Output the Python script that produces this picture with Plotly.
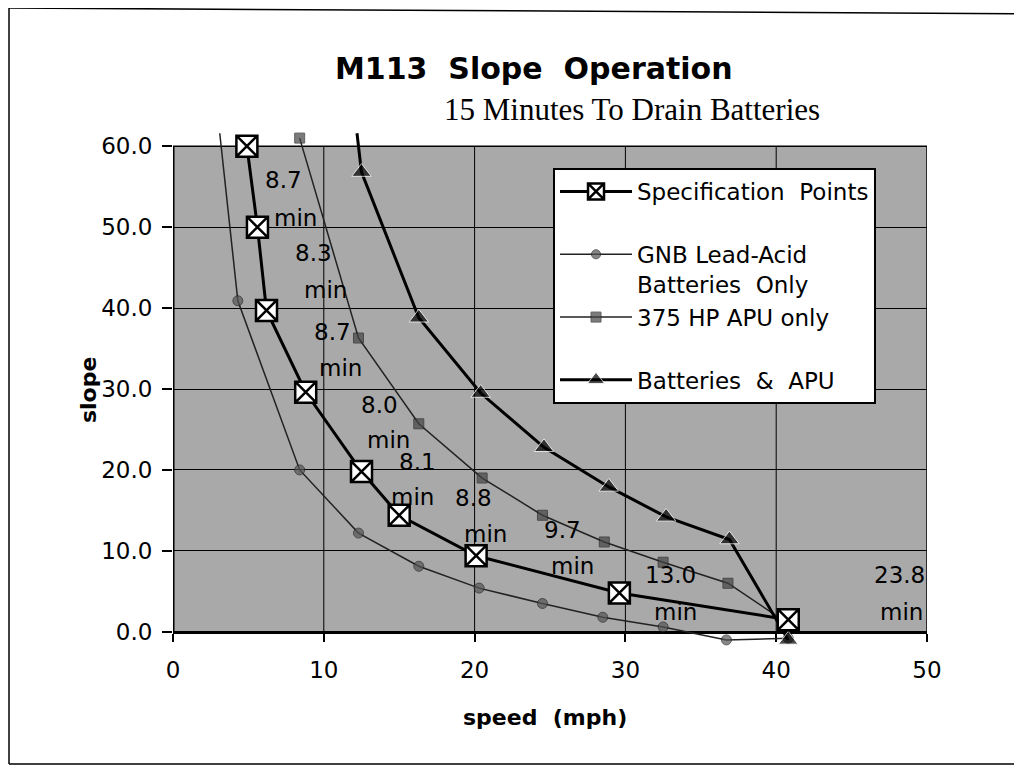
import plotly.graph_objects as go

# ---------------- data ----------------
spec_speed = [4.9, 5.6, 6.2, 8.8, 12.5, 15.0, 20.1, 29.6, 40.8]
spec_slope = [60.0, 50.0, 39.7, 29.6, 19.8, 14.4, 9.4, 4.8, 1.5]

gnb_speed = [3.1, 4.3, 8.4, 12.3, 16.3, 20.3, 24.5, 28.5, 32.5, 36.7, 40.8]
gnb_slope = [61.6, 40.9, 20.0, 12.2, 8.1, 5.4, 3.5, 1.8, 0.6, -1.0, -0.8]

apu_speed = [8.4, 12.3, 16.3, 20.5, 24.5, 28.6, 32.5, 36.8, 40.8]
apu_slope = [61.0, 36.3, 25.7, 19.0, 14.4, 11.1, 8.6, 6.0, 1.0]

both_speed = [12.2, 12.5, 16.3, 20.4, 24.6, 28.9, 32.7, 36.9, 40.8]
both_slope = [61.6, 56.8, 38.8, 29.5, 22.8, 17.9, 14.2, 11.4, -1.0]

drain_minutes = ["8.7", "8.3", "8.7", "8.0", "8.1", "8.8", "9.7", "13.0", "23.8"]

x_ticks = [0, 10, 20, 30, 40, 50]
y_ticks = [0, 10, 20, 30, 40, 50, 60]

# label placement (data coordinates) for the drain-time notes
num_pos = [(7.3, 55.8), (9.3, 46.8), (10.6, 37.0), (13.7, 28.0), (16.2, 21.0),
           (19.9, 16.5), (25.8, 12.6), (33.0, 7.0), (50.0, 7.0)]
min_pos = [(8.1, 51.1), (10.1, 42.2), (11.1, 32.6), (14.3, 23.7), (15.9, 16.7),
           (20.7, 12.1), (26.5, 8.1), (33.3, 2.5), (49.9, 2.5)]

SANS = "DejaVu Sans, Verdana, sans-serif"
SERIF = "Liberation Serif, Times New Roman, serif"
SHADE = "#a9a9a9"

X_MIN, X_MAX = 0, 50
Y_MIN, Y_MAX = 0, 60
Y_VIEW = (-2, 62)   # a little room so markers just beyond the frame still show


def sizes(vals, s):
    # points beyond the top of the chart only carry the line, no marker
    return [0 if v > 61.2 else s for v in vals]


fig = go.Figure()

fig.add_trace(go.Scatter(
    x=gnb_speed, y=gnb_slope, mode="lines+markers",
    name="GNB Lead-Acid<br>Batteries\u00a0 Only", legendrank=2,
    line=dict(color="#222222", width=1.5),
    marker=dict(symbol="circle", size=sizes(gnb_slope, 10), color="#555555"),
    cliponaxis=False))

fig.add_trace(go.Scatter(
    x=apu_speed, y=apu_slope, mode="lines+markers",
    name="375 HP APU only<br>\u00a0", legendrank=3,
    line=dict(color="#222222", width=1.5),
    marker=dict(symbol="square", size=sizes(apu_slope, 10), color="#444444"),
    cliponaxis=False))

fig.add_trace(go.Scatter(
    x=both_speed, y=both_slope, mode="lines+markers",
    name="Batteries\u00a0 &\u00a0 APU", legendrank=4,
    line=dict(color="black", width=3),
    marker=dict(symbol="triangle-up", size=sizes(both_slope, 17), color="black"),
    cliponaxis=False))

fig.add_trace(go.Scatter(
    x=spec_speed, y=spec_slope, mode="lines+markers",
    name="Specification\u00a0 Points<br>\u00a0", legendrank=1,
    line=dict(color="black", width=3),
    marker=dict(symbol="square-x", size=21, color="white",
                line=dict(color="black", width=2.5)),
    cliponaxis=False))

annotations = []
for txt, (nx, ny), (mx, my) in zip(drain_minutes, num_pos, min_pos):
    anchor = "right" if nx >= X_MAX else "center"
    annotations.append(dict(x=nx, y=ny, xref="x", yref="y", text=txt, showarrow=False,
                            xanchor=anchor, yanchor="middle",
                            font=dict(family=SANS, size=23, color="black")))
    annotations.append(dict(x=mx, y=my, xref="x", yref="y", text="min", showarrow=False,
                            xanchor=anchor, yanchor="middle",
                            font=dict(family=SANS, size=23, color="black")))

annotations += [
    dict(x=0.479, y=1.1178, xref="paper", yref="paper", xanchor="center", yanchor="middle",
         text="<b>M113\u00a0 Slope\u00a0 Operation</b>", showarrow=False,
         font=dict(family=SANS, size=30, color="black")),
    dict(x=0.861, y=1.0405, xref="paper", yref="paper", xanchor="right", yanchor="middle",
         text="15 Minutes To Drain Batteries", showarrow=False,
         font=dict(family=SERIF, size=31, color="black")),
    dict(x=-0.1127, y=0.498, xref="paper", yref="paper", xanchor="center", yanchor="middle",
         text="<b>slope</b>", textangle=-90, showarrow=False,
         font=dict(family=SANS, size=22, color="black")),
    dict(x=0.494, y=-0.135, xref="paper", yref="paper", xanchor="center", yanchor="middle",
         text="<b>speed\u00a0 (mph)</b>", showarrow=False,
         font=dict(family=SANS, size=22, color="black")),
]

shapes = [
    # shaded plotting field with its frame
    dict(type="rect", xref="x", yref="y", x0=X_MIN, x1=X_MAX, y0=Y_MIN, y1=Y_MAX,
         fillcolor=SHADE, line=dict(color="black", width=1.5), layer="below"),
]
# vertical grid lines limited to the shaded field
for t in x_ticks[1:-1]:
    shapes.append(dict(type="line", xref="x", yref="y", x0=t, x1=t, y0=Y_MIN, y1=Y_MAX,
                       line=dict(color="black", width=1), layer="below"))
# heavy left axis line
shapes.append(dict(type="line", xref="x", yref="y", x0=X_MIN, x1=X_MIN, y0=Y_MIN, y1=Y_MAX,
                   line=dict(color="black", width=3), layer="between"))
# outer frame of the figure (left, top, bottom edges; the right edge runs off the page)
frame = dict(color="black", width=1.5)
shapes += [
    dict(type="line", xref="paper", yref="paper", x0=-0.2175, x1=-0.2175,
         y0=-0.2239, y1=1.2356, line=frame),
    dict(type="line", xref="paper", yref="paper", x0=-0.2175, x1=1.16,
         y0=1.2356, y1=1.2240, line=frame),
    dict(type="line", xref="paper", yref="paper", x0=-0.2175, x1=1.16,
         y0=-0.2239, y1=-0.2239, line=frame),
]

fig.update_layout(
    width=1014, height=763,
    margin=dict(l=165, r=95, t=122, b=123),
    paper_bgcolor="white", plot_bgcolor="white",
    annotations=annotations,
    shapes=shapes,
    legend=dict(x=0.504, y=0.9266, xanchor="left", yanchor="top",
                bgcolor="white", bordercolor="black", borderwidth=2,
                font=dict(family=SANS, size=23, color="black"),
                valign="top", itemwidth=72, tracegroupgap=0),
    showlegend=True,
)

x_axis_pos = (0 - Y_VIEW[0]) / (Y_VIEW[1] - Y_VIEW[0])

fig.update_xaxes(range=[X_MIN, X_MAX], tickvals=x_ticks, ticks="outside", ticklen=8,
                 tickwidth=2, tickcolor="black", showline=True, linecolor="black",
                 linewidth=3, mirror=False, showgrid=False, zeroline=False,
                 anchor="free", position=x_axis_pos, ticklabelstandoff=9,
                 layer="below traces",
                 tickfont=dict(family=SANS, size=23, color="black"))
fig.update_yaxes(range=list(Y_VIEW), tickvals=y_ticks, tickformat=".1f", ticks="outside",
                 ticklen=10, tickwidth=2, tickcolor="black", showline=False,
                 showgrid=True, gridcolor="black", gridwidth=1, zeroline=False,
                 ticklabelstandoff=5, layer="below traces",
                 tickfont=dict(family=SANS, size=23, color="black"))

fig.write_html("out.html")
